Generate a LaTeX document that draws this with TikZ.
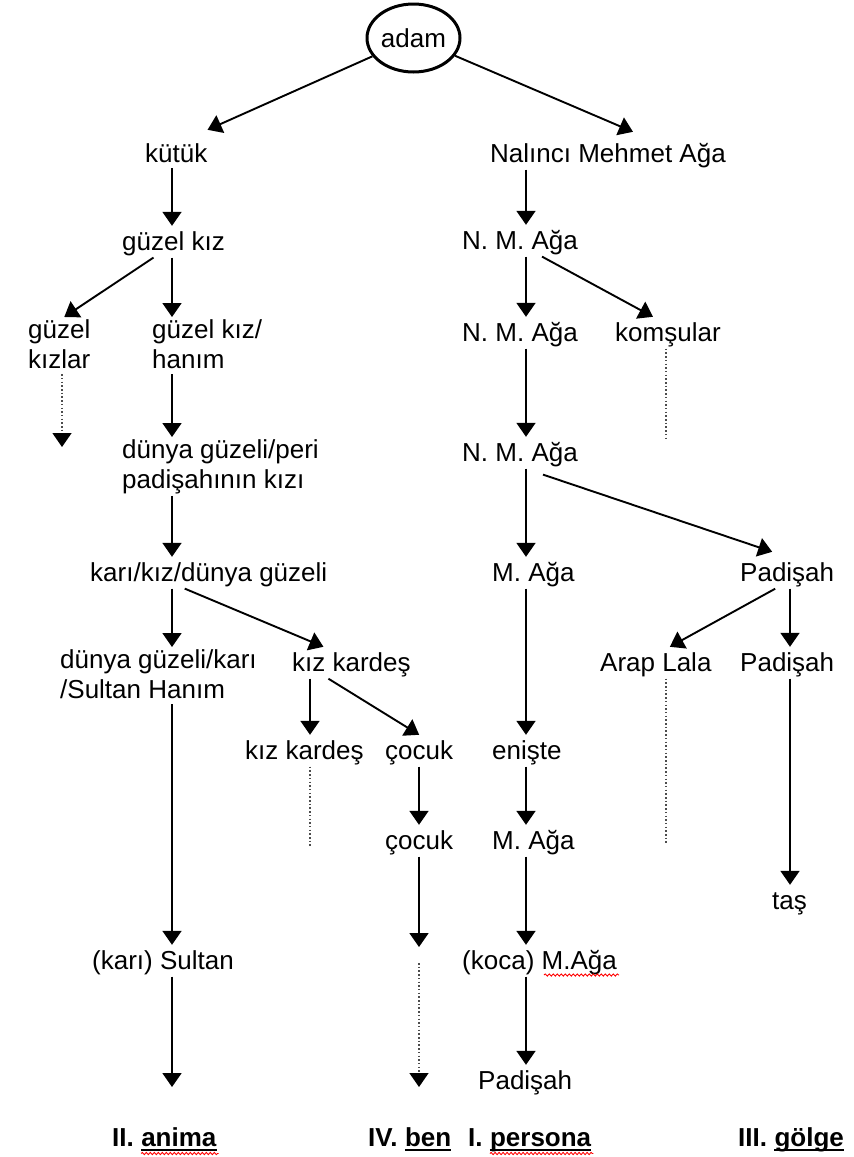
\documentclass[tikz,border=0pt]{standalone}
\usepackage{fontspec}
\setmainfont{Liberation Sans}
\usetikzlibrary{arrows.meta,shapes.geometric,decorations.pathmorphing}
\newcommand{\vs}{\rule[-4pt]{0pt}{26pt}}
\begin{document}
\begin{tikzpicture}[x=1pt,y=-1pt,
  txt/.style={font=\fontsize{26}{30}\selectfont, inner xsep=0pt, inner ysep=2pt, anchor=base west, execute at begin node=\vs},
  mtxt/.style={txt, anchor=north west, align=left},
  lab/.style={font=\fontsize{26}{30}\selectfont\bfseries, inner sep=0pt, anchor=base west},
  tip/.style={-{Triangle[width=19pt,length=14pt,color=black]}},
  arr/.style={line width=1.9pt, tip},
  dot/.style={line width=1.4pt, black!70, dash pattern=on 1.5pt off 2.2pt},
  dotarr/.style={dot, tip},
  wavy/.style={red, line width=0.9pt, decorate, decoration={snake, amplitude=1.1pt, segment length=4pt}},
  uline/.style={line width=1.6pt}
]
\useasboundingbox (0,0) rectangle (854,1157);

% columns
\coordinate (cL) at (172,0);
\coordinate (cK) at (62,0);
\coordinate (cKK) at (310,0);
\coordinate (cC) at (419,0);
\coordinate (cP) at (526,0);
\coordinate (cD) at (666,0);
\coordinate (cR) at (790,0);

% root
\node[draw, ellipse, line width=3pt, minimum width=93pt, minimum height=68pt, inner sep=0pt,
      font=\fontsize{26}{30}\selectfont] (adam) at (413.5,38) {adam};

% nodes
\node[txt] (kutuk) at (145,162) {kütük};
\node[txt] (nalinci) at (490,162) {Nalıncı Mehmet Ağa};
\node[txt] (guzelkiz) at (122,250) {güzel kız};
\node[txt] (nma1) at (462,249) {N. M. Ağa};
\node[mtxt] (kizlar) at (28,317) {güzel\\\vs kızlar};
\node[mtxt] (hanim) at (152,317) {güzel kız/\\\vs hanım};
\node[txt] (nma2) at (462,341) {N. M. Ağa};
\node[txt] (komsular) at (615,341) {komşular};
\node[mtxt] (peri) at (122,437) {dünya güzeli/peri\\\vs padişahının kızı};
\node[txt] (nma3) at (462,461) {N. M. Ağa};
\node[txt] (kari) at (90,581) {karı/kız/dünya güzeli};
\node[txt] (maga1) at (492,581) {M. Ağa};
\node[txt] (padisah1) at (740,581) {Padişah};
\node[mtxt] (sultanhanim) at (60,647) {dünya güzeli/karı\\\vs /Sultan Hanım};
\node[txt] (kk1) at (292,671) {kız kardeş};
\node[txt] (arap) at (600,671) {Arap Lala};
\node[txt] (padisah2) at (740,671) {Padişah};
\node[txt] (kk2) at (245,759) {kız kardeş};
\node[txt] (cocuk1) at (385,759) {çocuk};
\node[txt] (eniste) at (492,759) {enişte};
\node[txt] (cocuk2) at (385,849) {çocuk};
\node[txt] (maga2) at (492,849) {M. Ağa};
\node[txt] (tas) at (772,909) {taş};
\node[txt] (sultan) at (92,969) {(karı) Sultan};
\node[txt] (koca) at (462,969) {(koca) M.Ağa};
\node[txt] (padisah3) at (478,1089) {Padişah};

% free ends
\coordinate (kend) at (62,447);
\coordinate (komend) at (666,440);
\coordinate (kk2end) at (310,847);
\coordinate (arapend) at (666,843);
\coordinate (c2end) at (419,947);
\coordinate (bstart) at (419,963);
\coordinate (bend) at (419,1087);
\coordinate (send) at (172,1087);

% diagonal arrows
\draw[arr] (adam) -- ([yshift=8pt]kutuk.north east);
\draw[arr] (adam) -- ([xshift=25pt,yshift=6pt]nalinci.north);
\draw[arr] ([xshift=-20pt]guzelkiz.south) -- ([xshift=5pt]kizlar.north);
\draw[arr] ([xshift=22pt]nma1.south) -- ([xshift=-15pt]komsular.north);
\draw[arr] ([xshift=23pt,yshift=-6pt]nma3.south) -- ([xshift=-15pt,yshift=5pt]padisah1.north);
\draw[arr] ([xshift=-24pt]kari.south) -- ([xshift=-28pt]kk1.north);
\draw[arr] ([xshift=-12pt]padisah1.south) -- ([xshift=14pt]arap.north);
\draw[arr] ([xshift=-23pt]kk1.south) -- (cocuk1.north);

% vertical arrows
\draw[arr] (kutuk.south -| cL) -- (guzelkiz.north -| cL);
\draw[arr] (nalinci.south -| cP) -- (nma1.north -| cP);
\draw[arr] (guzelkiz.south -| cL) -- (hanim.north -| cL);
\draw[arr] (nma1.south -| cP) -- (nma2.north -| cP);
\draw[arr] (hanim.south -| cL) -- (peri.north -| cL);
\draw[arr] (nma2.south -| cP) -- (nma3.north -| cP);
\draw[arr] (peri.south -| cL) -- (kari.north -| cL);
\draw[arr] (nma3.south -| cP) -- (maga1.north -| cP);
\draw[arr] (kari.south -| cL) -- (sultanhanim.north -| cL);
\draw[arr] (maga1.south -| cP) -- (eniste.north -| cP);
\draw[arr] (padisah1.south -| cR) -- (padisah2.north -| cR);
\draw[arr] (kk1.south -| cKK) -- (kk2.north -| cKK);
\draw[arr] (sultanhanim.south -| cL) -- (sultan.north -| cL);
\draw[arr] (padisah2.south -| cR) -- (tas.north -| cR);
\draw[arr] (cocuk1.south -| cC) -- (cocuk2.north -| cC);
\draw[arr] (eniste.south -| cP) -- (maga2.north -| cP);
\draw[arr] (cocuk2.south -| cC) -- (c2end);
\draw[arr] (maga2.south -| cP) -- (koca.north -| cP);
\draw[arr] (koca.south -| cP) -- (padisah3.north -| cP);
\draw[arr] (sultan.south -| cL) -- (send);

% dotted
\draw[dotarr] (kizlar.south -| cK) -- (kend);
\draw[dot] (komsular.south -| cD) -- (komend);
\draw[dot] (kk2.south -| cKK) -- (kk2end);
\draw[dot] (arap.south -| cD) -- (arapend);
\draw[dotarr] (bstart) -- (bend);

% wavy under M.Ağa
\draw[wavy] ([xshift=-73pt,yshift=-6pt]koca.base east) -- ([xshift=2pt,yshift=-6pt]koca.base east);

% bottom labels
\node[lab] (l1) at (112,1146) {II.};
\node[lab, xshift=7pt] (anima) at (l1.base east) {anima};
\node[lab] (l2) at (368,1146) {IV.};
\node[lab, xshift=7pt] (ben) at (l2.base east) {ben};
\node[lab] (l3) at (468,1146) {I.};
\node[lab, xshift=7pt] (persona) at (l3.base east) {persona};
\node[lab] (l4) at (738,1146) {III.};
\node[lab, xshift=7pt] (golge) at (l4.base east) {gölge};

\draw[uline] ([yshift=-4pt]anima.base west) -- ([yshift=-4pt]anima.base east);
\draw[uline] ([yshift=-4pt]ben.base west) -- ([yshift=-4pt]ben.base east);
\draw[uline] ([yshift=-4pt]persona.base west) -- ([yshift=-4pt]persona.base east);
\draw[uline] ([yshift=-4pt]golge.base west) -- ([yshift=-4pt]golge.base east);
\draw[wavy] ([yshift=-7.5pt]anima.base west) -- ([xshift=2pt,yshift=-7.5pt]anima.base east);
\draw[wavy] ([yshift=-7.5pt]persona.base west) -- ([xshift=2pt,yshift=-7.5pt]persona.base east);
\end{tikzpicture}
\end{document}
